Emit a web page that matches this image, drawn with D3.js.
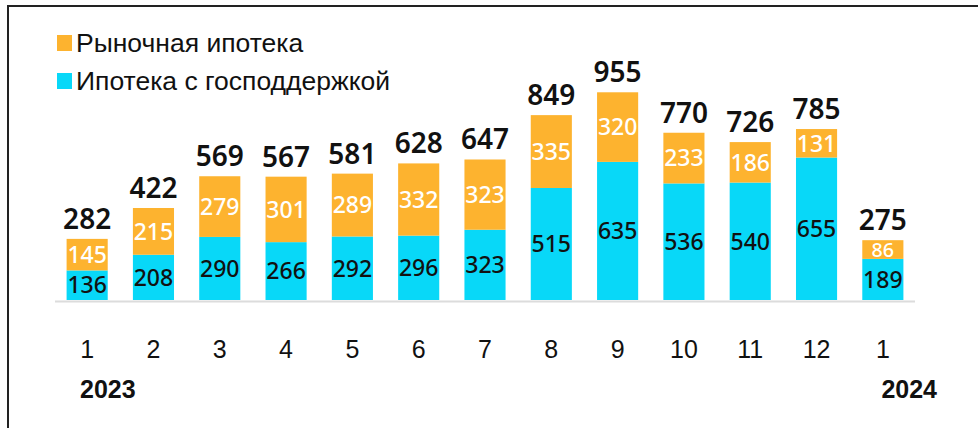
<!DOCTYPE html>
<html>
<head>
<meta charset="utf-8">
<script src="https://cdn.jsdelivr.net/npm/d3@7"></script>
<style>
  html, body { margin: 0; padding: 0; background: #fff; }
  svg { display: block; }
</style>
</head>
<body>
<svg id="chart" width="978" height="428"></svg>
<script>
const months = ["1", "2", "3", "4", "5", "6", "7", "8", "9", "10", "11", "12", "1"];
const state = [136, 208, 290, 266, 292, 296, 323, 515, 635, 536, 540, 655, 189];
const market = [145, 215, 279, 301, 289, 332, 323, 335, 320, 233, 186, 131, 86];
const totals = [282, 422, 569, 567, 581, 628, 647, 849, 955, 770, 726, 785, 275];
const years = ["2023", "2024"];
const seriesNames = ["Рыночная ипотека", "Ипотека с господдержкой"];

const colors = { market: "#fdb32f", state: "#08d8f8" };
const numFont = "'Noto Sans', 'Open Sans', sans-serif";
const axisFont = "'Liberation Sans', Arial, sans-serif";

const svg = d3.select("#chart");
const width = 978, height = 428;

// frame (left + top only)
svg.append("path")
  .attr("d", `M8,${height} V6 H${width}`)
  .attr("fill", "none").attr("stroke", "#222").attr("stroke-width", 2);

const data = months.map((m, i) => ({ i, month: m, state: state[i], market: market[i], total: totals[i] }));

const x = d3.scaleBand().domain(d3.range(months.length)).range([54, 916]).paddingInner(0.38).paddingOuter(0.19);
const y = d3.scaleLinear().domain([0, 1000]).range([300, 82.5]);

// baseline
svg.append("line")
  .attr("x1", 55).attr("x2", 915).attr("y1", 301.5).attr("y2", 301.5)
  .attr("stroke", "#dcdcdc").attr("stroke-width", 2);

const g = svg.append("g");

g.selectAll("rect.state").data(data).join("rect")
  .attr("class", "state")
  .attr("x", d => x(d.i)).attr("width", x.bandwidth())
  .attr("y", d => y(d.state)).attr("height", d => y(0) - y(d.state))
  .attr("fill", colors.state);

g.selectAll("rect.market").data(data).join("rect")
  .attr("class", "market")
  .attr("x", d => x(d.i)).attr("width", x.bandwidth())
  .attr("y", d => y(d.state + d.market)).attr("height", d => y(d.state) - y(d.state + d.market))
  .attr("fill", colors.market);

const cx = d => x(d.i) + x.bandwidth() / 2;
// shrink a label when its segment is too thin for it
const segFont = h => Math.min(23, h + 1);

g.selectAll("text.state").data(data).join("text")
  .attr("class", "state")
  .attr("x", cx).attr("y", d => (y(0) + y(d.state)) / 2)
  .attr("dy", "0.36em").attr("text-anchor", "middle")
  .attr("font-family", numFont).attr("font-size", d => segFont(y(0) - y(d.state))).attr("font-weight", 500)
  .attr("fill", "#111").text(d => d.state);

g.selectAll("text.market").data(data).join("text")
  .attr("class", "market")
  .attr("x", cx).attr("y", d => (y(d.state) + y(d.state + d.market)) / 2)
  .attr("dy", "0.36em").attr("text-anchor", "middle")
  .attr("font-family", numFont).attr("font-size", d => segFont(y(d.state) - y(d.state + d.market))).attr("font-weight", 500)
  .attr("fill", "#fff").text(d => d.market);

g.selectAll("text.total").data(data).join("text")
  .attr("class", "total")
  .attr("x", cx).attr("y", d => y(d.total) - 10)
  .attr("text-anchor", "middle")
  .attr("font-family", numFont).attr("font-size", 28).attr("font-weight", 600)
  .attr("fill", "#111").text(d => d.total);

// month axis labels
g.selectAll("text.month").data(data).join("text")
  .attr("class", "month")
  .attr("x", cx).attr("y", 358)
  .attr("text-anchor", "middle")
  .attr("font-family", axisFont).attr("font-size", 25)
  .attr("fill", "#111").text(d => d.month);

// years
svg.append("text").attr("x", 80).attr("y", 398)
  .attr("font-family", axisFont).attr("font-size", 25).attr("font-weight", 700)
  .attr("fill", "#111").text(years[0]);
svg.append("text").attr("x", 937).attr("y", 398).attr("text-anchor", "end")
  .attr("font-family", axisFont).attr("font-size", 25).attr("font-weight", 700)
  .attr("fill", "#111").text(years[1]);

// legend
const legend = svg.append("g");
const legendItems = [
  { name: seriesNames[0], color: colors.market },
  { name: seriesNames[1], color: colors.state }
];
legend.selectAll("rect").data(legendItems).join("rect")
  .attr("x", 57).attr("y", (d, i) => 35 + i * 38)
  .attr("width", 15).attr("height", 16)
  .attr("fill", d => d.color);
legend.selectAll("text").data(legendItems).join("text")
  .attr("x", 76).attr("y", (d, i) => 52 + i * 38)
  .attr("font-family", "'Liberation Sans', Arial, sans-serif").attr("font-size", 26.5)
  .attr("fill", "#111").text(d => d.name);
</script>
</body>
</html>
